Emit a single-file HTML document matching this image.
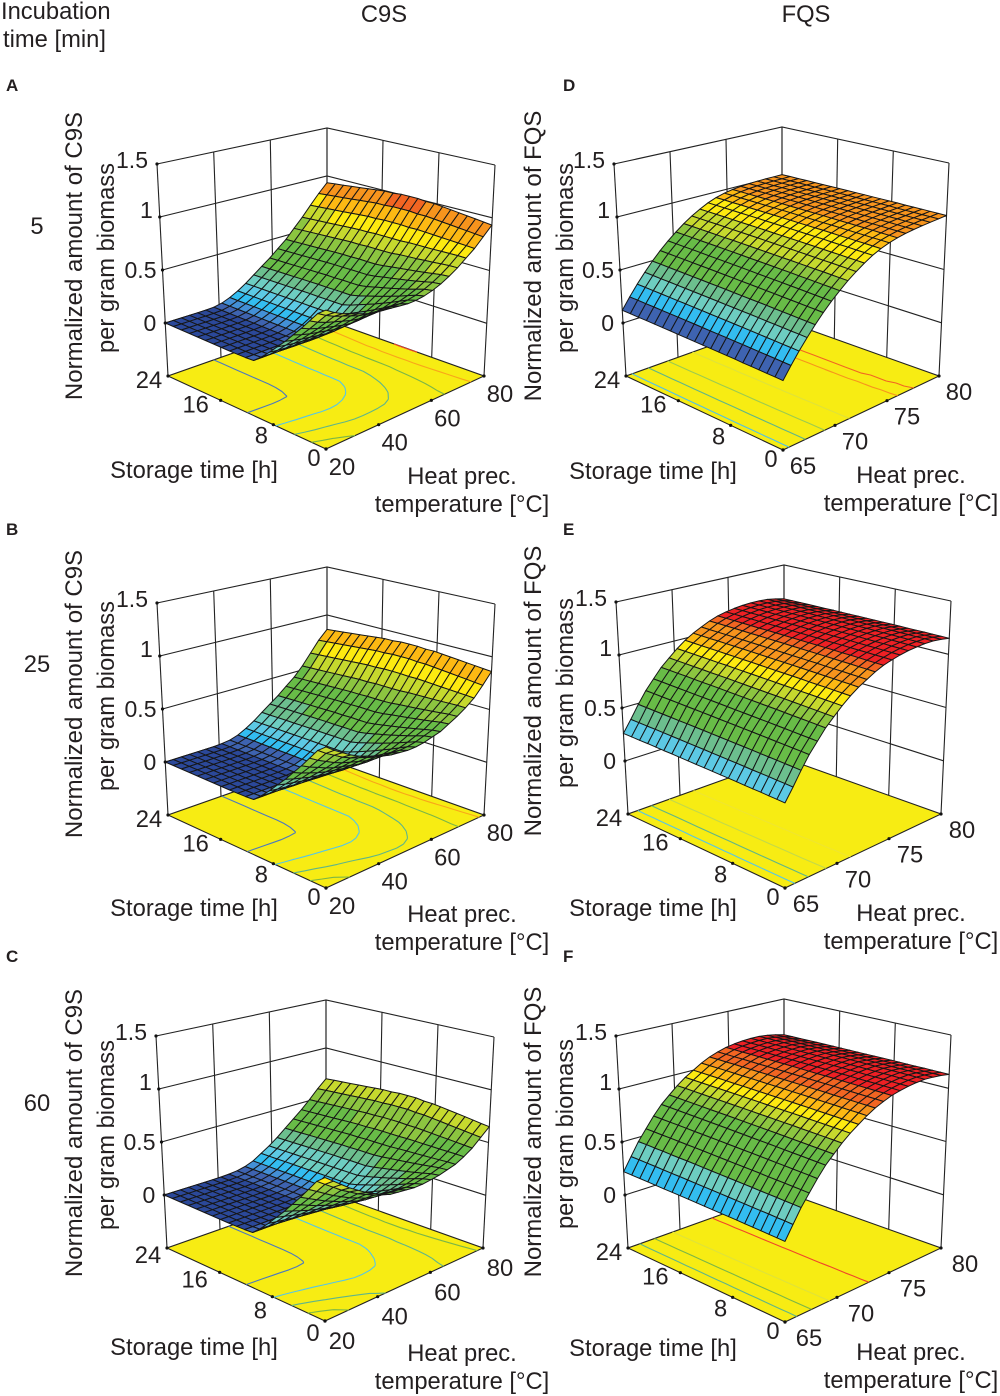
<!DOCTYPE html>
<html lang="en">
<head>
<meta charset="utf-8">
<title>Response surfaces of C9S and FQS</title>
<style>
html,body{margin:0;padding:0;background:#fff;}
#figure{display:block;width:1000px;height:1396px;}
text{font-family:"Liberation Sans",sans-serif;fill:#231f20;font-size:23.75px;}
</style>
</head>
<body>
<svg id="figure" xmlns="http://www.w3.org/2000/svg" width="1000" height="1396" viewBox="0 0 1000 1396">
<text x="1" y="19">Incubation</text>
<text x="3" y="47">time [min]</text>
<text x="384" y="22" text-anchor="middle">C9S</text>
<text x="806" y="22" text-anchor="middle">FQS</text>
<text x="37" y="234" text-anchor="middle">5</text>
<text x="37" y="672" text-anchor="middle">25</text>
<text x="37" y="1111" text-anchor="middle">60</text>
</svg>
<script>
// ---- chart values ----
const c9sTempTicks = [20, 40, 60, 80];
const fqsTempTicks = [65, 70, 75, 80];
const storageTicks = [24, 16, 8, 0];
const zTicks = [1.5, 1, 0.5, 0];

// z along temperature at 24 h storage (C9S panels)
const aTempCurve = [0,0,0,0,.0003,.001,.005,.02,.05,.09,.14,.2,.26,.32,.39,.46,.55,.64,.74,.84,.93];
const bTempCurve = [0,0,0,0,0,.0003,.001,.005,.015,.04,.08,.13,.19,.25,.31,.38,.45,.54,.65,.76,.85];
const cTempCurve = [0,0,0,0,0,0,.0003,.001,.005,.012,.03,.06,.11,.16,.22,.29,.36,.43,.51,.6,.68];
// z along temperature at 0 h storage (C9S panels)
const aFrontCurve = [.74,.69,.65,.62,.59,.56,.54,.53,.52,.51,.5,.5,.51,.53,.56,.6,.65,.71,.77,.85,.93];
const bFrontCurve = [.76,.7,.65,.6,.56,.53,.5,.47,.45,.44,.43,.43,.44,.46,.48,.52,.56,.61,.67,.76,.86];
const cFrontCurve = [.78,.72,.66,.6,.55,.5,.46,.42,.39,.38,.37,.36,.36,.37,.38,.4,.42,.46,.51,.58,.65];
// storage dependence of the C9S surfaces
const c9sStorageBump = [1,1.01,1.02,1.03,1.04,1.05,1.06,1.07,1.07,1.08,1.08,1.08,1.07,1.07,1.06,1.05,1.04,1.03,1.02,1.01,1];
const c9sFrontDecay = [1,.92,.79,.66,.54,.42,.31,.2,.1,.012,.005,.002,.0005,0,0,0,0,0,0,0,0];

// z along temperature (FQS panels)
const dTempCurve = [.12,.223,.321,.411,.496,.575,.647,.712,.772,.825,.872,.913,.944,.967,.983,.993,.999,1.003,1.005,1.006,1.007];
const eTempCurve = [.26,.37,.49,.6,.69,.78,.85,.92,.98,1.03,1.07,1.11,1.14,1.16,1.175,1.185,1.19,1.19,1.185,1.17,1.15];
const fTempCurve = [.22,.34,.46,.56,.66,.75,.82,.89,.95,1,1.05,1.09,1.12,1.145,1.16,1.17,1.175,1.175,1.165,1.15,1.13];
const fqsStorageShift = [0,.001,.001,.002,.002,.002,.003,.003,.003,.003,.003,.003,.003,.003,.003,.002,.002,.002,.001,.001,0];

// upper z limit of each palette band
const c9sColorLimits = [.005,.03,.055,.1,.14,.22,.29,.5,.6,.71,.8,.88,.95,1.05,9];
const dColorLimits = [0,.22,.22,.32,.32,.41,.5,.71,.77,.87,.945,.98,9,9,9];
const eColorLimits = [0,0,0,0,.38,.38,.5,.78,.85,.92,.98,1.03,1.105,1.14,9];
const fColorLimits = [0,0,0,.34,.34,.46,.46,.83,.88,.95,1,1.05,1.09,1.14,9];

// contour levels drawn on the floor
const c9sContourLevels = [.004,.2,.4,.6,.8,1];
const dContourLevels = [.2,.4,.6,.8,.99,1.002];
const eContourLevels = [.4,.6,.8,1];
const fContourLevels = [.2,.4,.6,.8,1.08];

// ---- styling and layout ----
const palette = ['#2b4899','#3e63b0','#4390d6','#33bdf0','#5cc9e4','#6dcdc1','#6cbf8e','#68bc47','#8cc540','#c6d92e','#fdea10','#fdb913','#f7941d','#f26522','#ed2024'];
const c9sContourInk = ['#4a78c0','#55c5e8','#5fb58a','#7ab648','#f9a51a','#f0452a'];
const dContourInk = ['#4fbfe8','#5fb58a','#9ccb50','#dfe23a','#f7941d','#f26522'];
const eContourInk = ['#55c5e8','#5fb58a','#c3d94a','#efe530'];
const fContourInk = ['#3f90d6','#5fb58a','#7ab648','#dfe23a','#f0452a'];
const storageLabelNudge = [[-19,4],[-25,4],[-12,11],[-12,9]];
const zLabelNudge = [[-9,-4],[-7,-7],[-6,0],[-9,0]];

const boxA = {F:[326,449],R:[484,376],L:[168,376],B:[327,320],FT:[326,225],RT:[495,165],LT:[157,164],BT:[327,128]};
const boxD = {F:[783,450],R:[939,376],L:[626,376],B:[782,320],FT:[783,226],RT:[949,163],LT:[614,164],BT:[782,127]};
function shifted(box, dx, dy) {
  const out = {};
  for (const k in box) out[k] = [box[k][0] + dx, box[k][1] + dy];
  return out;
}

const panels = [
  {id:'a',letter:'A',lx:6,ly:91,kind:'C9S',box:boxA,ticks:c9sTempTicks,curve:aTempCurve,front:aFrontCurve,limits:c9sColorLimits,levels:c9sContourLevels,ink:c9sContourInk,tempShift:[16,18],storeShift:[0,0],line1X:82,line2X:114,yMid:256,storeX:194,storeY:478,heatX:462,heatY:484,tempX:462,tempY:512},
  {id:'b',letter:'B',lx:6,ly:535,kind:'C9S',box:shifted(boxA,0,439),ticks:c9sTempTicks,curve:bTempCurve,front:bFrontCurve,limits:c9sColorLimits,levels:c9sContourLevels,ink:c9sContourInk,tempShift:[16,18],storeShift:[0,0],line1X:82,line2X:114,yMid:694,storeX:194,storeY:916,heatX:462,heatY:922,tempX:462,tempY:950},
  {id:'c',letter:'C',lx:6,ly:962,kind:'C9S',box:shifted(boxA,-1,872),ticks:c9sTempTicks,curve:cTempCurve,front:cFrontCurve,limits:c9sColorLimits,levels:c9sContourLevels,ink:c9sContourInk,tempShift:[17,20],storeShift:[0,3],line1X:82,line2X:114,yMid:1133,storeX:194,storeY:1355,heatX:462,heatY:1361,tempX:462,tempY:1389},
  {id:'d',letter:'D',lx:563,ly:91,kind:'FQS',box:boxD,ticks:fqsTempTicks,curve:dTempCurve,limits:dColorLimits,levels:dContourLevels,ink:dContourInk,tempShift:[20,16],storeShift:[0,0],line1X:541,line2X:573,yMid:256,storeX:653,storeY:479,heatX:911,heatY:483,tempX:911,tempY:511},
  {id:'e',letter:'E',lx:563,ly:535,kind:'FQS',box:shifted(boxD,2,438),ticks:fqsTempTicks,curve:eTempCurve,limits:eColorLimits,levels:eContourLevels,ink:eContourInk,tempShift:[21,16],storeShift:[0,0],line1X:541,line2X:573,yMid:691,storeX:653,storeY:916,heatX:911,heatY:921,tempX:911,tempY:949},
  {id:'f',letter:'F',lx:563,ly:962,kind:'FQS',box:shifted(boxD,2,872),ticks:fqsTempTicks,curve:fTempCurve,limits:fColorLimits,levels:fContourLevels,ink:fContourInk,tempShift:[24,16],storeShift:[0,0],line1X:541,line2X:573,yMid:1132,storeX:653,storeY:1356,heatX:911,heatY:1360,tempX:911,tempY:1388}
];

// ---- helpers ----
const NS = 'http://www.w3.org/2000/svg';
const svg = document.getElementById('figure');
function make(tag, parent, attrs, content) {
  const node = document.createElementNS(NS, tag);
  for (const k in attrs) node.setAttribute(k, attrs[k]);
  if (content !== undefined) node.textContent = content;
  parent.appendChild(node);
  return node;
}
function quad(F, R, L, B) {
  return function (u, v) {
    const a = (1-u)*(1-v), b = u*(1-v), c = (1-u)*v, d = u*v;
    return [a*F[0]+b*R[0]+c*L[0]+d*B[0], a*F[1]+b*R[1]+c*L[1]+d*B[1]];
  };
}
const fmt = p => p[0].toFixed(1) + ',' + p[1].toFixed(1);
const GRID = 20;

function drawPanel(p) {
  const g = make('g', svg, {});
  
  

  const floor = quad(p.box.F, p.box.R, p.box.L, p.box.B);
  const top = quad(p.box.FT, p.box.RT, p.box.LT, p.box.BT);
  const tMin = p.ticks[0], tMax = p.ticks[p.ticks.length - 1];
  const tempAxis = t => (t - tMin) / (tMax - tMin);
  const storageAxis = s => s / 24;
  const zAxis = z => (z + 0.5) / 2;
  const project = function (u, v, z) {
    const f = floor(u, v), t = top(u, v), w = zAxis(z);
    return [f[0] + (t[0]-f[0])*w, f[1] + (t[1]-f[1])*w];
  };
  const surfaceZ = function (i, j) {
    if (p.kind === 'FQS') return p.curve[i] + fqsStorageShift[j];
    const far = p.curve[i] * c9sStorageBump[j];
    return far + (p.front[i] - p.curve[i] * c9sStorageBump[0]) * c9sFrontDecay[j];
  };
  const colorFor = function (z) {
    for (let k = 0; k < p.limits.length; k++) if (z < p.limits[k]) return palette[k];
    return palette[palette.length - 1];
  };

  // back walls
  const wallStyle = {stroke:'#222', 'stroke-width':1.1, fill:'none'};
  zTicks.forEach(function (z) {
    const a = project(0,1,z), b = project(1,1,z), c = project(1,0,z);
    const line = make('polyline', g, Object.assign({points: fmt(a)+' '+fmt(b)+' '+fmt(c)}, wallStyle));
    
    
  });
  p.ticks.forEach(function (t) {
    const u = tempAxis(t);
    const line = make('polyline', g, Object.assign({points: fmt(project(u,1,-0.5))+' '+fmt(project(u,1,1.5))}, wallStyle));
    
    
  });
  storageTicks.forEach(function (s) {
    const v = storageAxis(s);
    const line = make('polyline', g, Object.assign({points: fmt(project(1,v,-0.5))+' '+fmt(project(1,v,1.5))}, wallStyle));
    
    
  });

  // floor
  const floorShape = make('polygon', g, {points:[p.box.L,p.box.F,p.box.R,p.box.B].map(fmt).join(' '), fill:'#f7ec13', stroke:'#222', 'stroke-width':1.1});
  
  

  p.levels.forEach(function (level, n) {
    let d = '';
    for (let i = 0; i < GRID; i++) for (let j = 0; j < GRID; j++) {
      const c = [[i,j],[i+1,j],[i+1,j+1],[i,j+1]];
      const hits = [];
      for (let k = 0; k < 4; k++) {
        const a = c[k], b = c[(k+1)%4];
        const za = surfaceZ(a[0],a[1]), zb = surfaceZ(b[0],b[1]);
        if ((za < level) !== (zb < level)) {
          const f = (level - za) / (zb - za);
          hits.push(floor((a[0]+(b[0]-a[0])*f)/GRID, (a[1]+(b[1]-a[1])*f)/GRID));
        }
      }
      for (let k = 0; k + 1 < hits.length; k += 2) d += 'M' + fmt(hits[k]) + 'L' + fmt(hits[k+1]);
    }
    if (d) {
      const path = make('path', g, {d:d, fill:'none', stroke:p.ink[n], 'stroke-width':1.1});
      
      
    }
  });

  // tick dots
  p.ticks.forEach(function (t) {
    const q = floor(tempAxis(t), 0);
    const dot = make('circle', g, {cx:q[0], cy:q[1], r:1.6, fill:'#111'});
    
    
  });
  storageTicks.forEach(function (s) {
    const q = floor(0, storageAxis(s));
    const dot = make('circle', g, {cx:q[0], cy:q[1], r:1.6, fill:'#111'});
    
    
  });
  zTicks.forEach(function (z) {
    const q = project(0,1,z);
    const dot = make('circle', g, {cx:q[0], cy:q[1], r:1.6, fill:'#111'});
    
    
  });

  // surface mesh, painted from the far corner to the near corner
  for (let i = GRID - 1; i >= 0; i--) {
    for (let j = GRID - 1; j >= 0; j--) {
      const zs = [surfaceZ(i,j), surfaceZ(i+1,j), surfaceZ(i+1,j+1), surfaceZ(i,j+1)];
      const pts = [project(i/GRID,j/GRID,zs[0]), project((i+1)/GRID,j/GRID,zs[1]), project((i+1)/GRID,(j+1)/GRID,zs[2]), project(i/GRID,(j+1)/GRID,zs[3])];
      const mean = (zs[0]+zs[1]+zs[2]+zs[3]) / 4;
      const cell = make('polygon', g, {points:pts.map(fmt).join(' '), fill:colorFor(mean), stroke:'#161616', 'stroke-width':1, 'stroke-linejoin':'round'});
      
      
    }
  }

  // tick labels
  zTicks.forEach(function (z, n) {
    const q = project(0,1,z);
    const label = make('text', g, {x:q[0]+zLabelNudge[n][0], y:q[1]+zLabelNudge[n][1]+8, 'text-anchor':'end', style:'font-size:23px'}, String(z));
    
    
  });
  storageTicks.forEach(function (s, n) {
    const q = floor(0, storageAxis(s));
    const label = make('text', g, {x:q[0]+storageLabelNudge[n][0]+p.storeShift[0], y:q[1]+storageLabelNudge[n][1]+p.storeShift[1]+8, 'text-anchor':'middle'}, String(s));
    
    
  });
  p.ticks.forEach(function (t) {
    const q = floor(tempAxis(t), 0);
    const label = make('text', g, {x:q[0]+p.tempShift[0], y:q[1]+p.tempShift[1]+8, 'text-anchor':'middle'}, String(t));
    
    
  });

  // titles
  const letter = make('text', g, {x:p.lx, y:p.ly, 'font-weight':'bold', style:'font-size:17px'}, p.letter);
  
  
  const y1 = make('text', g, {x:0, y:0, 'text-anchor':'middle', style:'font-size:24px', transform:'translate('+p.line1X+','+p.yMid+') rotate(-90)'}, 'Normalized amount of ' + p.kind);
  
  
  const y2 = make('text', g, {x:0, y:0, 'text-anchor':'middle', transform:'translate('+p.line2X+','+(p.yMid+2)+') rotate(-90)'}, 'per gram biomass');
  
  
  const st = make('text', g, {x:p.storeX, y:p.storeY, 'text-anchor':'middle'}, 'Storage time [h]');
  
  
  const h1 = make('text', g, {x:p.heatX, y:p.heatY, 'text-anchor':'middle'}, 'Heat prec.');
  
  
  const h2 = make('text', g, {x:p.tempX, y:p.tempY, 'text-anchor':'middle'}, 'temperature [°C]');
  
  
}
panels.forEach(drawPanel);
</script>
</body>
</html>
